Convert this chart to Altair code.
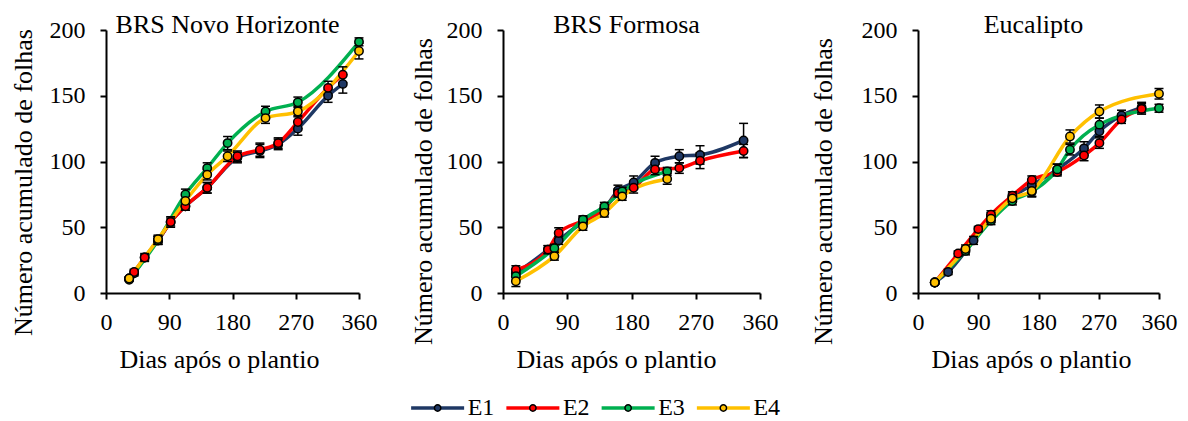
import altair as alt
import pandas as pd

SERIES = ["E1", "E2", "E3", "E4"]
COLORS = ["#1F3864", "#FF0000", "#00B050", "#FFC000"]
TITLES = ["BRS Novo Horizonte", "BRS Formosa", "Eucalipto"]
X_TICKS = [0, 90, 180, 270, 360]
Y_TICKS = [0, 50, 100, 150, 200]

# ---- Panel 1: BRS Novo Horizonte ----
NH_E1_DAYS = [33, 40, 55, 74, 92, 113, 144, 187, 219, 245, 273, 316, 337]
NH_E1_VALS = [11, 15, 27, 40, 54, 66, 80, 103, 108, 113, 125, 150, 159]
NH_E1_ERR = [1, 2, 3, 3, 4, 3, 4, 4, 5, 4, 5, 5, 7]
NH_E2_DAYS = [33, 40, 55, 74, 92, 113, 144, 187, 219, 245, 273, 316, 337]
NH_E2_VALS = [11, 16, 27, 40, 54, 66, 80, 104, 109, 114, 130, 156, 166]
NH_E2_ERR = [1, 2, 2, 3, 3, 3, 4, 4, 5, 4, 5, 5, 6]
NH_E3_DAYS = [33, 74, 113, 144, 173, 227, 273, 360]
NH_E3_VALS = [10, 40, 75, 95, 114, 138, 145, 191]
NH_E3_ERR = [1, 3, 4, 4, 5, 4, 4, 3]
NH_E4_DAYS = [33, 74, 113, 144, 173, 227, 273, 360]
NH_E4_VALS = [11, 41, 70, 90, 104, 133, 138, 184]
NH_E4_ERR = [1, 3, 4, 4, 4, 4, 4, 6]

# ---- Panel 2: BRS Formosa ----
FO_E1_DAYS = [18, 63, 78, 112, 142, 161, 183, 213, 247, 276, 337]
FO_E1_VALS = [15, 33, 40, 54, 64, 78, 84, 99, 104, 105, 116]
FO_E1_ERR = [3, 3, 3, 3, 3, 4, 5, 5, 5, 7, 13]
FO_E2_DAYS = [18, 63, 78, 112, 142, 161, 183, 213, 247, 276, 337]
FO_E2_VALS = [17.7, 33, 45.6, 55, 64, 76, 80, 94, 95, 100.6, 108]
FO_E2_ERR = [3, 3, 4, 3, 3, 3, 4, 4, 4, 6, 5]
FO_E3_DAYS = [18, 72, 112, 142, 167, 230]
FO_E3_VALS = [12.7, 34, 55.7, 65.9, 77.3, 92.5]
FO_E3_ERR = [3, 3, 3, 3, 3, 3]
FO_E4_DAYS = [18, 72, 112, 142, 167, 230]
FO_E4_VALS = [8.9, 28, 50.7, 60.8, 73.5, 86.7]
FO_E4_ERR = [4, 3, 3, 3, 3, 4]

# ---- Panel 3: Eucalipto ----
EU_E1_DAYS = [25, 45, 83, 109, 141, 170, 208, 248, 271, 304, 334]
EU_E1_VALS = [8, 16, 40, 58, 73, 82, 94, 110, 123, 135, 141]
EU_E1_ERR = [1, 2, 3, 3, 3, 4, 4, 5, 4, 4, 4]
EU_E2_DAYS = [25, 60, 90, 109, 141, 170, 208, 248, 271, 304, 334]
EU_E2_VALS = [8, 30, 48.6, 59.5, 74, 86, 92, 104.6, 114, 132, 140]
EU_E2_ERR = [1, 2, 2, 3, 3, 3, 3, 4, 4, 3, 4]
EU_E3_DAYS = [25, 71, 109, 141, 170, 208, 227, 271, 360]
EU_E3_VALS = [8, 32, 55, 70, 77, 94, 109, 128, 140.5]
EU_E3_ERR = [1, 3, 3, 3, 4, 4, 4, 5, 3]
EU_E4_DAYS = [25, 71, 109, 141, 170, 227, 271, 360]
EU_E4_VALS = [8, 33.5, 56.5, 72, 77.6, 119, 138, 151.5]
EU_E4_ERR = [1, 3, 3, 3, 4, 5, 5, 4]

FONT = "Liberation Serif"


def make_df(parts):
    rows = []
    for name, days, vals, errs in parts:
        for d, v, e in zip(days, vals, errs):
            rows.append({"series": name, "day": d, "val": v, "lo": v - e, "hi": v + e})
    return pd.DataFrame(rows)


df_nh = make_df([("E1", NH_E1_DAYS, NH_E1_VALS, NH_E1_ERR), ("E2", NH_E2_DAYS, NH_E2_VALS, NH_E2_ERR),
                 ("E3", NH_E3_DAYS, NH_E3_VALS, NH_E3_ERR), ("E4", NH_E4_DAYS, NH_E4_VALS, NH_E4_ERR)])
df_fo = make_df([("E1", FO_E1_DAYS, FO_E1_VALS, FO_E1_ERR), ("E2", FO_E2_DAYS, FO_E2_VALS, FO_E2_ERR),
                 ("E3", FO_E3_DAYS, FO_E3_VALS, FO_E3_ERR), ("E4", FO_E4_DAYS, FO_E4_VALS, FO_E4_ERR)])
df_eu = make_df([("E1", EU_E1_DAYS, EU_E1_VALS, EU_E1_ERR), ("E2", EU_E2_DAYS, EU_E2_VALS, EU_E2_ERR),
                 ("E3", EU_E3_DAYS, EU_E3_VALS, EU_E3_ERR), ("E4", EU_E4_DAYS, EU_E4_VALS, EU_E4_ERR)])


def panel(df, title, width, ytitle_x, ytitle_y):
    base = alt.Chart(df)
    x = alt.X("day:Q", scale=alt.Scale(domain=[0, 360], nice=False),
              axis=alt.Axis(values=X_TICKS, title="Dias após o plantio", titleX=113, titleY=74,
                            titleBaseline="alphabetic", titleAlign="center", labelFlush=False))
    y = alt.Y("val:Q", scale=alt.Scale(domain=[0, 200], nice=False),
              axis=alt.Axis(values=Y_TICKS, title="Número acumulado de folhas", titleAngle=270,
                            titleX=ytitle_x, titleY=ytitle_y, titleBaseline="alphabetic",
                            titleAlign="center", labelFlush=False))
    color_scale = alt.Scale(domain=SERIES, range=COLORS)
    line = base.mark_line(interpolate="monotone", strokeWidth=3.5).encode(
        x=x, y=y, color=alt.Color("series:N", scale=color_scale, legend=None))
    bar = base.mark_rule(color="black", strokeWidth=1.5).encode(x="day:Q", y="lo:Q", y2="hi:Q")
    cap_hi = base.mark_rule(color="black", strokeWidth=1.5, xOffset=-4.5, x2Offset=4.5).encode(
        x="day:Q", x2="day:Q", y="hi:Q")
    cap_lo = base.mark_rule(color="black", strokeWidth=1.5, xOffset=-4.5, x2Offset=4.5).encode(
        x="day:Q", x2="day:Q", y="lo:Q")
    pts = base.mark_point(shape="circle", filled=True, size=70, stroke="black", strokeWidth=1.5,
                          opacity=1).encode(
        x="day:Q", y="val:Q", fill=alt.Fill("series:N", scale=color_scale, legend=None))
    ttl = alt.Chart(pd.DataFrame({"title": [title]})).mark_text(
        font=FONT, fontSize=26, color="black", align="center", baseline="alphabetic"
    ).encode(text="title:N", x=alt.value(width / 2 - 5), y=alt.value(3))
    return alt.layer(line, bar, cap_hi, cap_lo, pts, ttl).properties(width=width, height=263)


p1 = panel(df_nh, TITLES[0], 253, -75, 152)
p2 = panel(df_fo, TITLES[1], 257, -72, 161)
p3 = panel(df_eu, TITLES[2], 241, -87, 161)

row = alt.hconcat(alt.hconcat(p1, p2, spacing=32), p3, spacing=32)

LEG_SHIFT = -61
leg_df = pd.DataFrame({"series": SERIES})
leg_x = alt.X("series:N", scale=alt.Scale(domain=SERIES, type="point", padding=0.5), axis=None)
leg_color = alt.Scale(domain=SERIES, range=COLORS)
leg_base = alt.Chart(leg_df)
leg_line = leg_base.mark_rule(strokeWidth=3.5, xOffset=-26.5 + LEG_SHIFT,
                              x2Offset=26.5 + LEG_SHIFT).encode(
    x=leg_x, x2="series:N", y=alt.value(10), color=alt.Color("series:N", scale=leg_color, legend=None))
leg_pt = leg_base.mark_point(shape="circle", filled=True, size=40, stroke="black", strokeWidth=1.5,
                             opacity=1, xOffset=LEG_SHIFT).encode(
    x=leg_x, y=alt.value(10), fill=alt.Fill("series:N", scale=leg_color, legend=None))
leg_txt = leg_base.mark_text(align="left", baseline="middle", dx=30 + LEG_SHIFT, font=FONT,
                             fontSize=24, color="black").encode(
    x=leg_x, y=alt.value(10), text="series:N")
legend = alt.layer(leg_line, leg_pt, leg_txt).properties(width=381, height=20)

chart = alt.vconcat(row, legend, spacing=24, center=True).properties(
    padding={"left": 9, "top": 12, "right": 10, "bottom": 1}
).configure_view(stroke=None).configure_axis(
    grid=False, domainColor="black", domainWidth=2, tickColor="black", tickWidth=2, tickSize=6,
    labelFont=FONT, labelFontSize=24, labelColor="black", titleFont=FONT, titleFontSize=26,
    titleFontWeight="normal", titleColor="black"
).configure_axisX(labelPadding=11).configure_axisY(labelPadding=15)

chart.save("out.html", embed_options={"renderer": "svg", "actions": False})
